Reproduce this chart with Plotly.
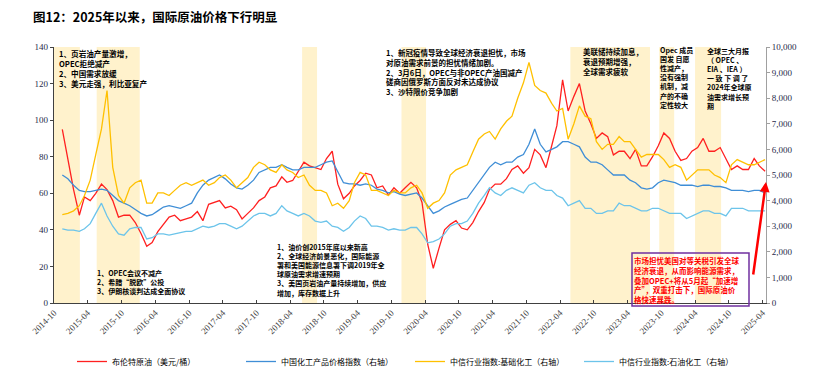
import plotly.graph_objects as go
import pandas as pd

# ---------------- data (monthly) ----------------
months = pd.date_range("2014-10-15", "2025-04-15", freq="MS") + pd.Timedelta(days=14)

brent = [95, 79, 62,
         48, 58, 56, 60, 65, 62, 56, 47, 48, 48, 44, 38,
         31, 33, 39, 43, 47, 48, 45, 46, 47, 50, 45, 54,
         55, 56, 52, 53, 51, 46, 49, 52, 56, 58, 63, 64,
         69, 66, 67, 72, 77, 75, 74, 73, 79, 83, 65, 57,
         60, 64, 67, 71, 70, 63, 64, 59, 63, 60, 63, 66,
         63, 55, 32, 19, 30, 40, 43, 45, 41, 40, 44, 50,
         55, 62, 65, 65, 68, 73, 75, 71, 74, 84, 81, 74,
         86, 97, 122, 105, 113, 120, 105, 98, 90, 93, 91, 81,
         83, 83, 79, 84, 75, 75, 80, 86, 93, 90, 83, 78,
         79, 83, 85, 90, 83, 83, 85, 79, 73, 75, 73, 73,
         79, 75, 72, 65]

ccpi = [5000, 4850, 4600,
        4400, 4350, 4350, 4400, 4450, 4400, 4200, 4000, 3900, 3800, 3650, 3500,
        3400, 3450, 3600, 3750, 3800, 3750, 3700, 3800, 3900, 4300, 4600, 4800,
        4900, 5000, 4850, 4650, 4500, 4450, 4600, 4800, 5100, 5200, 5300, 5300,
        5400, 5300, 5200, 5200, 5300, 5300, 5300, 5400, 5500, 5550, 5100, 4700,
        4650, 4650, 4600, 4650, 4600, 4450, 4400, 4300, 4350, 4250, 4200, 4250,
        4300, 4100, 3800, 3500, 3600, 3750, 3850, 3950, 4050, 4100, 4400, 4700,
        5000, 5300, 5500, 5400, 5500, 5500, 5700, 5800, 6200, 6800, 6200, 5900,
        6000, 6100, 6300, 6300, 6200, 6100, 5700, 5500, 5500, 5400, 5200, 5000,
        5000, 5000, 4800, 4700, 4500, 4450, 4500, 4700, 4800, 4750, 4700, 4600,
        4600, 4600, 4550, 4600, 4600, 4550, 4550, 4500, 4400, 4400, 4400, 4350,
        4400, 4400, 4300, 4100]

basic_chem = [3450, 3500, 3600,
              3800, 4200, 4800, 5800, 6800, 8300, 5300, 4200, 3900, 4500, 4700, 4800,
              3900, 3900, 4300, 4300, 4200, 4400, 4600, 4700, 4600, 4700, 4800, 4600,
              4700, 4900, 5000, 4800, 4500, 4700, 4900, 5300, 5500, 5400, 5200, 5100,
              5400, 5200, 5100, 4900, 5000, 4600, 4400, 4400, 4300, 3800, 3900, 3700,
              4000, 4700, 5100, 5000, 4400, 4400, 4300, 4200, 4400, 4300, 4300, 4500,
              4600, 4300, 3700, 3900, 4000, 4300, 5000, 5200, 5300, 5400, 5900, 6400,
              6600, 6700, 6400, 6800, 7100, 7300, 8000, 8600, 9400, 8500, 8300, 8200,
              7800, 7500, 7600, 6400, 7000, 7700, 7300, 7200, 6300, 6000, 6200, 6200,
              6500, 6300, 6300, 6000, 5700, 5800, 5800, 5800, 5600, 5300, 5400, 5300,
              4800, 5000, 5200, 5200, 5200, 5000, 4900, 4700, 5400, 5600, 5500, 5400,
              5400, 5500, 5600, 5200]

petro_chem = [2900, 2850, 2850,
              2800, 2900, 3100, 3500, 3900, 3400, 3000, 2700, 2650, 2900, 2950, 2950,
              2500, 2550, 2700, 2700, 2650, 2700, 2750, 2800, 2800, 2900, 3000, 2950,
              3000, 3100, 3100, 3000, 2900, 3000, 3200, 3400, 3500, 3500, 3400, 3500,
              3800, 3600, 3500, 3400, 3500, 3400, 3200, 3150, 3200, 3000, 2950, 2800,
              2950, 3200, 3400, 3300, 3000, 3000, 2950, 2850, 2900, 2850, 2850, 2950,
              2950, 2700, 2350, 2400, 2500, 2700, 3000, 3100, 3100, 3200, 3500, 3900,
              4200, 4500, 4300, 4200, 4400, 4500, 4400, 4300, 4600, 4700, 4500, 4400,
              4400, 4200, 4100, 3800, 3900, 4000, 3700, 3700, 3500, 3500, 3600, 3600,
              3900, 3800, 3800, 3700, 3600, 3600, 3700, 3700, 3600, 3500, 3500, 3500,
              3300, 3400, 3500, 3600, 3600, 3500, 3500, 3400, 3700, 3700, 3700, 3600,
              3600, 3600, 3600, 3400]

series_names = ["布伦特原油（美元/桶）", "中国化工产品价格指数（右轴）",
                "中信行业指数:基础化工（右轴）", "中信行业指数:石油化工（右轴）"]

tick_dates = pd.date_range("2014-10-01", "2025-04-01", freq="6MS")
tick_labels = [d.strftime("%Y-%m") for d in tick_dates]

bands = [("2014-10-01", "2015-02-18"), ("2015-05-20", "2016-01-08"),
         ("2018-06-05", "2018-08-25"), ("2019-11-25", "2020-04-06"),
         ("2022-05-27", "2023-08-01"), ("2023-09-20", "2023-12-10"),
         ("2024-04-01", "2024-08-20")]

# ---------------- figure ----------------
SERIF = "Liberation Serif"
CJK = "Noto Sans CJK SC"
L, R, T, B = 54, 67, 47, 75
W, H = 833, 378
PW, PH = W - L - R, H - T - B


def fx(px):
    return (px - L) / PW


def fy(py):
    return (H - B - py) / PH


fig = go.Figure()
fig.add_trace(go.Scatter(x=months, y=brent, name=series_names[0], yaxis="y",
                         line=dict(color="#FF2020", width=1.3)))
fig.add_trace(go.Scatter(x=months, y=ccpi, name=series_names[1], yaxis="y2",
                         line=dict(color="#3F8ED6", width=1.3)))
fig.add_trace(go.Scatter(x=months, y=basic_chem, name=series_names[2], yaxis="y2",
                         line=dict(color="#FFC000", width=1.3)))
fig.add_trace(go.Scatter(x=months, y=petro_chem, name=series_names[3], yaxis="y2",
                         line=dict(color="#6CC4EA", width=1.3)))

shapes = []
for a, b in bands:
    shapes.append(dict(type="rect", xref="x", yref="paper", x0=a, x1=b, y0=0, y1=1,
                       fillcolor="#FFF2CC", line=dict(width=0), layer="below"))
shapes.append(dict(type="rect", xref="paper", yref="paper",
                   x0=fx(632), x1=fx(749), y0=fy(306), y1=fy(253),
                   line=dict(color="#7030A0", width=1.5), fillcolor="rgba(0,0,0,0)"))

ann = []


def note(px, py, text, color="black", size=7.5):
    ann.append(dict(xref="paper", yref="paper", x=fx(px), y=fy(py), xanchor="left",
                    yanchor="top", showarrow=False, align="left", borderpad=0,
                    text=text, font=dict(family=CJK, size=size, color=color)))


note(58, 47, "<b>1、页岩油产量激增，<br>OPEC拒绝减产<br>2、中国需求放缓<br>3、美元走强，利比亚复产</b>", size=7.6)
note(385, 46, "<b>1、新冠疫情导致全球经济衰退担忧，市场<br>对原油需求前景的担忧情绪加剧。<br>"
              "2、3月6日，OPEC与非OPEC产油国减产<br>磋商因俄罗斯方面反对未达成协议<br>3、沙特限价竞争加剧</b>")
note(582, 45, "<b>美联储持续加息，<br>衰退预期增强，<br>全球需求疲软</b>")
note(659, 44, "<b>Opec 成员<br>国发 自愿<br>性减产，<br>没有强制<br>机制，减<br>产的不确<br>定性较大</b>", size=7)
note(706, 45, "<b>全球三大月报<br>（ OPEC 、<br>EIA 、IEA ）<br>一 致 下 调 了<br>2024年全球原<br>油需求增长预<br>期</b>", size=7)
note(96, 267, "<b>1、OPEC会议不减产<br>2、希腊“脱欧”公投<br>3、伊朗核谈判达成全面协议</b>", size=7)
note(276, 241, "<b>1、油价创2015年底以来新高<br>2、全球经济前景恶化，国际能源<br>署和美国能源信息署下调2019年全<br>"
               "球原油需求增速预期<br>3、美国页岩油产量持续增加，供应<br>增加，库存数据上升</b>", size=7)
note(633, 254, "<b>市场担忧美国对等关税引发全球<br>经济衰退，从而影响能源需求，<br>叠加OPEC+将从5月起“加速增<br>"
               "产”，双重打击下，国际原油价<br>格快速暴跌。</b>", color="#FF0000", size=7.5)

# red arrow
ann.append(dict(xref="paper", yref="paper", x=fx(766), y=fy(182), ax=-13, ay=94,
                showarrow=True, arrowhead=2, arrowsize=0.8, arrowwidth=2.5,
                arrowcolor="#FF0000", text=""))

# title
ann.append(dict(xref="paper", yref="paper", x=fx(31), y=fy(16), xanchor="left", yanchor="middle",
                showarrow=False, text="<b>图12：2025年以来，国际原油价格下行明显</b>",
                font=dict(family=CJK, size=12.5, color="black")))

fig.update_layout(
    width=W, height=H,
    margin=dict(l=L, r=R, t=T, b=B, autoexpand=False),
    paper_bgcolor="white", plot_bgcolor="white",
    shapes=shapes, annotations=ann,
    showlegend=True,
    legend=dict(orientation="h", x=fx(410), xanchor="center", y=fy(347), yanchor="top",
                font=dict(family=CJK, size=8, color="black"),
                traceorder="normal", itemwidth=30, entrywidth=124, tracegroupgap=0),
    xaxis=dict(type="date", range=["2014-10-01", "2025-04-20"],
               tickvals=list(tick_dates), ticktext=tick_labels, tickangle=-45,
               tickfont=dict(family=SERIF, size=9, color="#404040"),
               showgrid=False, showline=True, linecolor="#404040", linewidth=1.2,
               ticks="inside", ticklen=3, tickcolor="#404040", zeroline=False),
    yaxis=dict(range=[0, 140], dtick=20, showgrid=False, showline=True,
               linecolor="#404040", linewidth=1.2, ticks="outside", ticklen=3,
               tickfont=dict(family=SERIF, size=9, color="#1F2A4A"), zeroline=False),
    yaxis2=dict(range=[0, 10000], dtick=1000, overlaying="y", side="right",
                showgrid=False, showline=True, linecolor="#A0A0A0", linewidth=1,
                ticks="outside", ticklen=3, tickcolor="#A0A0A0", tickformat=",d",
                tickfont=dict(family=SERIF, size=9, color="#1F2A4A"), zeroline=False),
)

fig.write_html("out.html", config={"displayModeBar": False},
               post_script="document.body.style.margin='0';")
